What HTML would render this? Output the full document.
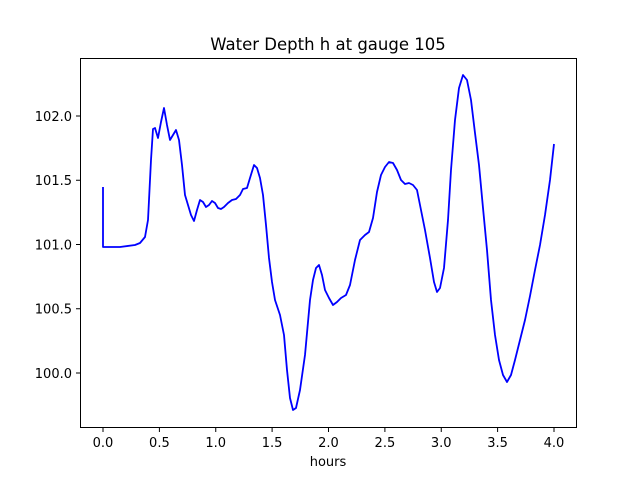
<!DOCTYPE html>
<html><head><meta charset="utf-8"><style>body{margin:0;background:#fff}</style></head><body>
<svg width="640" height="480" viewBox="0 0 640 480" xmlns="http://www.w3.org/2000/svg" font-family="DejaVu Sans, sans-serif">
<rect width="640" height="480" fill="#fff"/>
<text x="328" y="50" font-size="16.5" text-anchor="middle">Water Depth h at gauge 105</text>
<polyline fill="none" stroke="#0000ff" stroke-width="1.8" stroke-linejoin="round" points="103,187 103,247 120,247 135,245 140,243 145,237 148,220 151,160 153,129 155,128 158,138 161,122 164,108 167,125 170,140 173,135 176,130 179,140 182,165 185,195 188,205 191,215 194,221 197,210 200,200 203,202 206,207 209,205 212,201 215,203 218,208 221,209 224,207 228,203 232,200 236,199 240,195 243,189 247,188 250,178 254,165 257,168 260,178 263,195 266,225 269,258 272,282 275,300 280,315 284,335 287,370 290,398 293,410 296,408 300,390 305,355 310,300 313,280 316,268 319,265 322,275 325,290 329,298 333,305 337,302 341,298 346,295 350,285 355,260 360,240 365,235 369,232 373,218 377,192 381,175 385,167 389,162 393,163 397,170 401,180 405,184 409,183 413,185 417,190 420,205 425,230 430,258 434,282 437,292 440,288 444,268 448,220 451,170 455,120 459,88 463,75 467,80 471,100 475,133 479,165 483,208 487,250 491,300 495,335 499,360 503,375 507,382 511,375 515,360 520,340 525,320 530,296 535,270 540,245 545,215 550,180 554,144"/>
<rect x="80.5" y="58.5" width="496" height="369" fill="none" stroke="#000" stroke-width="1"/>
<g stroke="#000" stroke-width="1">
<line x1="103" y1="428" x2="103" y2="432"/><line x1="159.4" y1="428" x2="159.4" y2="432"/><line x1="215.75" y1="428" x2="215.75" y2="432"/><line x1="272.1" y1="428" x2="272.1" y2="432"/><line x1="328.5" y1="428" x2="328.5" y2="432"/><line x1="384.9" y1="428" x2="384.9" y2="432"/><line x1="441.25" y1="428" x2="441.25" y2="432"/><line x1="497.6" y1="428" x2="497.6" y2="432"/><line x1="554" y1="428" x2="554" y2="432"/>
<line x1="76" y1="373" x2="80" y2="373"/><line x1="76" y1="308.75" x2="80" y2="308.75"/><line x1="76" y1="244.5" x2="80" y2="244.5"/><line x1="76" y1="180.25" x2="80" y2="180.25"/><line x1="76" y1="116" x2="80" y2="116"/>
</g>
<g font-size="13" text-anchor="middle">
<text x="103" y="447">0.0</text><text x="159.4" y="447">0.5</text><text x="215.75" y="447">1.0</text><text x="272.1" y="447">1.5</text><text x="328.5" y="447">2.0</text><text x="384.9" y="447">2.5</text><text x="441.25" y="447">3.0</text><text x="497.6" y="447">3.5</text><text x="554" y="447">4.0</text>
<text x="328" y="466">hours</text>
</g>
<g font-size="13" text-anchor="end">
<text x="72" y="378">100.0</text><text x="72" y="313.5">100.5</text><text x="72" y="249.5">101.0</text><text x="72" y="185">101.5</text><text x="72" y="121">102.0</text>
</g>
</svg>
</body></html>
